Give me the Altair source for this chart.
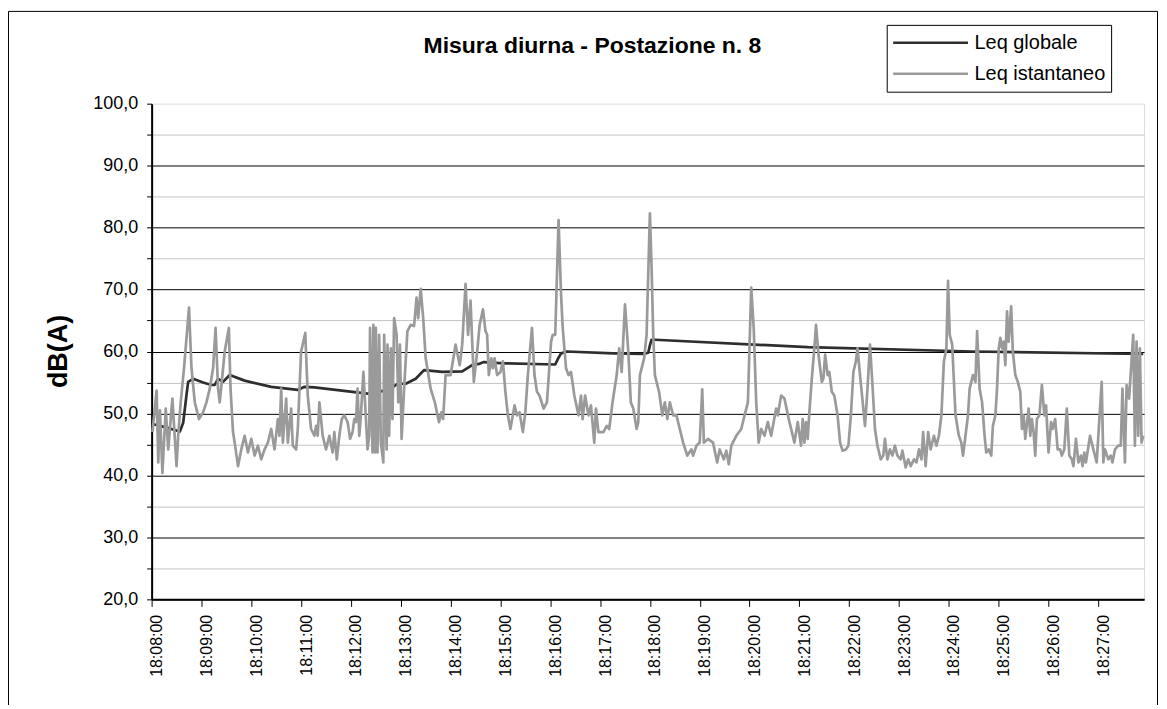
import altair as alt
import pandas as pd

# ---- data (seconds after 18:08:00, level in dB(A)) ----
inst_t = [1, 6, 8, 10, 13, 17, 20, 25, 30, 32, 35, 39, 45, 48, 52, 57, 62, 66, 70, 74, 77, 80, 82, 88, 93, 95, 98, 100,
          104, 108, 112, 116, 120, 124, 128, 132, 136, 140, 144, 148, 152, 154, 156, 158, 162, 164, 168, 170, 174, 176,
          180, 185, 188, 192, 196, 198, 200, 202, 206, 210, 214, 218, 220, 223, 226, 229, 232, 236, 239, 242, 244, 246,
          248, 250, 252, 255, 257, 260, 262, 263, 266, 267, 269, 270, 272, 274, 276, 279, 280, 283, 284, 286, 288, 290,
          292, 295, 297, 299, 301, 304, 308, 312, 316, 319, 321, 324, 327, 330, 336, 341, 346, 349, 351, 354, 360, 366,
          371, 374, 378, 381, 384, 388, 392, 395, 399, 402, 404, 406, 409, 411, 413, 416, 420, 423, 426, 429, 432, 437,
          440, 443, 447, 450, 453, 458, 461, 464, 467, 472, 476, 481, 483, 486, 490, 493, 495, 499, 502, 505, 509, 514,
          517, 519, 522, 526, 529, 533, 535, 538, 544, 548, 551, 555, 560, 563, 566, 570, 574, 577, 580, 584, 586, 588,
          591, 593, 596, 600, 602, 604, 606, 608, 611, 615, 618, 621, 624, 628, 632, 636, 640, 645, 650, 652, 656, 660,
          663, 665, 670, 676, 681, 684, 689, 692, 695, 698, 704, 710, 714, 718, 722, 725, 728, 731, 734, 738, 742, 746,
          752, 754, 758, 762, 768, 771, 774, 778, 782, 784, 786, 788, 790, 792, 795, 798, 800, 803, 805, 807, 809, 811,
          814, 816, 819, 822, 826, 829, 832, 836, 839, 842, 845, 848, 850, 853, 855, 859, 862, 865, 868, 871, 874, 878,
          881, 883, 886, 889, 892, 895, 898, 902, 904, 908, 911, 914, 918, 921, 924, 927, 929, 932, 935, 938, 942, 945,
          948, 951, 954, 957, 959, 961, 964, 968, 972, 975, 977, 980, 983, 985, 987, 989, 992, 994, 997, 1000, 1003,
          1005, 1008, 1011, 1013, 1016, 1018, 1020, 1022, 1024, 1026, 1028, 1030, 1032, 1035, 1037, 1040, 1043, 1046,
          1048, 1050, 1052, 1056, 1058, 1060, 1062, 1064, 1066, 1069, 1072, 1075, 1077, 1080, 1083, 1085, 1088, 1091,
          1094, 1096, 1099, 1102, 1105, 1108, 1110, 1113, 1116, 1119, 1121, 1123, 1125, 1130, 1134, 1138, 1144, 1146,
          1148, 1152, 1155, 1157, 1160, 1164, 1167, 1169, 1172, 1174, 1177, 1182, 1184, 1186, 1188, 1190, 1192, 1194]
inst_v = [47.0, 53.7, 42.1, 50.5, 40.4, 50.8, 44.2, 52.4, 41.5, 46.4, 51.8, 57.3, 67.1, 57.3, 51.8, 49.1, 50.2, 51.8,
          54.0, 57.3, 63.8, 54.0, 51.8, 60.0, 63.8, 54.0, 47.0, 45.3, 41.5, 44.2, 46.4, 43.7, 45.9, 43.2, 44.8, 42.6,
          44.2, 45.3, 47.5, 44.2, 49.1, 46.4, 54.0, 45.3, 52.4, 45.3, 50.8, 44.8, 44.2, 47.5, 60.0, 63.0, 52.9, 47.5,
          46.4, 48.0, 46.4, 51.8, 46.4, 44.2, 46.4, 43.7, 47.0, 42.6, 46.4, 49.1, 49.7, 48.6, 45.9, 47.0, 49.1, 48.6,
          54.0, 46.4, 49.7, 56.7, 51.8, 44.2, 46.4, 63.8, 43.7, 64.3, 43.7, 63.8, 43.7, 62.7, 45.3, 42.1, 62.7, 44.2,
          61.1, 46.4, 60.5, 49.1, 65.4, 62.7, 51.8, 61.1, 45.9, 54.0, 63.3, 64.3, 64.1, 68.7, 65.4, 70.1, 65.4, 58.9,
          54.0, 51.8, 48.6, 50.2, 49.1, 56.2, 56.2, 61.1, 57.8, 61.1, 70.9, 62.7, 68.2, 55.1, 60.0, 64.3, 66.8, 63.3,
          62.7, 56.2, 58.9, 57.3, 58.9, 56.2, 56.7, 58.4, 53.5, 49.7, 47.5, 51.3, 49.7, 50.2, 47.0, 50.2, 56.2, 63.8,
          56.2, 53.5, 52.9, 50.8, 51.8, 61.6, 62.7, 62.7, 81.2, 69.2, 63.8, 57.3, 56.2, 56.7, 52.9, 49.7, 52.9, 49.1,
          52.9, 49.7, 51.3, 45.3, 50.8, 47.0, 47.0, 48.0, 47.5, 51.8, 56.2, 60.5, 56.7, 67.6, 60.0, 51.8, 50.8, 47.5,
          48.6, 56.2, 57.8, 58.9, 62.7, 82.3, 73.6, 62.7, 56.2, 55.1, 53.5, 49.7, 51.8, 49.1, 51.8, 49.7, 49.7, 47.5,
          45.3, 43.2, 44.2, 43.2, 44.8, 45.3, 53.9, 45.3, 45.9, 45.3, 42.1, 44.2, 42.6, 44.0, 41.8, 44.8, 46.4, 47.5,
          49.7, 51.8, 70.3, 63.8, 51.8, 45.3, 47.5, 46.4, 48.6, 46.4, 50.8, 49.7, 52.9, 52.4, 48.6, 47.0, 45.3, 48.6,
          44.8, 49.1, 45.3, 48.6, 45.9, 50.2, 55.7, 60.5, 64.3, 59.5, 57.3, 55.1, 55.7, 59.5, 56.2, 56.7, 53.5, 52.9,
          49.7, 45.3, 44.0, 44.2, 44.8, 49.7, 56.7, 58.4, 60.5, 56.2, 53.5, 48.0, 54.0, 61.1, 54.6, 47.5, 44.8, 42.6,
          43.2, 45.9, 42.6, 44.2, 43.2, 44.8, 43.2, 42.6, 44.0, 41.3, 42.6, 41.5, 42.6, 42.1, 44.2, 42.6, 47.0, 41.5,
          47.0, 44.2, 46.4, 44.8, 46.4, 49.7, 58.4, 60.5, 71.4, 62.7, 61.1, 49.7, 46.4, 45.3, 43.2, 46.4, 49.7, 54.0,
          55.1, 56.2, 55.1, 63.3, 54.0, 51.8, 46.4, 43.7, 44.2, 43.2, 48.0, 49.7, 54.0, 60.5, 62.2, 60.5, 61.6, 57.8,
          66.5, 61.6, 67.3, 60.0, 56.2, 55.1, 53.5, 47.5, 49.7, 45.9, 50.8, 46.4, 49.1, 47.0, 43.2, 49.1, 49.7, 54.6,
          49.7, 51.3, 43.7, 48.6, 47.5, 49.1, 44.2, 44.2, 43.2, 44.2, 50.8, 43.2, 42.6, 41.5, 45.9, 42.1, 43.2, 41.5,
          43.7, 42.1, 46.4, 44.2, 42.1, 55.1, 42.1, 44.2, 42.6, 43.2, 42.1, 44.2, 44.8, 44.8, 54.0, 42.1, 54.6, 52.4,
          62.7, 44.8, 61.6, 46.4, 60.5, 45.3, 46.4]

glob_t = [1, 16, 34, 38, 42, 44, 50, 62, 72, 76, 80, 86, 94, 112, 144, 176, 184, 196, 242, 260, 286, 296, 306, 318,
          328, 350, 374, 386, 394, 400, 424, 486, 490, 493, 500, 556, 592, 598, 600, 602, 606, 790, 988, 1194]
glob_v = [48.3, 47.8, 47.1, 48.5, 53.0, 55.1, 55.6, 55.0, 54.6, 54.6, 55.6, 55.1, 56.2, 55.3, 54.3, 53.8, 54.3, 54.2,
          53.5, 53.2, 53.8, 54.8, 54.8, 55.6, 57.0, 56.7, 56.8, 57.8, 58.0, 58.3, 58.1, 57.9, 59.0, 59.7, 60.0, 59.7,
          59.6, 59.8, 61.0, 61.9, 61.9, 60.7, 60.0, 59.6]

series_names = ["Leq globale", "Leq istantaneo"]
series_colors = ["#2e2e2e", "#9a9a9a"]
x_tick_labels = ["18:08:00", "18:09:00", "18:10:00", "18:11:00", "18:12:00", "18:13:00", "18:14:00",
                 "18:15:00", "18:16:00", "18:17:00", "18:18:00", "18:19:00", "18:20:00", "18:21:00",
                 "18:22:00", "18:23:00", "18:24:00", "18:25:00", "18:26:00", "18:27:00"]
y_tick_labels = ["20,0", "30,0", "40,0", "50,0", "60,0", "70,0", "80,0", "90,0", "100,0"]
title_text = "Misura diurna - Postazione n. 8"
y_title = "dB(A)"

df = pd.concat([
    pd.DataFrame({"t": glob_t, "v": glob_v, "serie": series_names[0]}),
    pd.DataFrame({"t": inst_t, "v": inst_v, "serie": series_names[1]}),
], ignore_index=True)

FONT = "Liberation Sans"

x_label_expr = "[" + ",".join("'%s'" % s for s in x_tick_labels) + "][round(datum.value / 60)]"
y_label_expr = ("datum.value % 10 == 0 ? [" + ",".join("'%s'" % s for s in y_tick_labels)
                + "][round((datum.value - 20) / 10)] : ''")

lines = alt.Chart(df).mark_line(strokeWidth=2.7, strokeJoin="round").encode(
    x=alt.X("t:Q",
            scale=alt.Scale(domain=[0, 1195], nice=False, zero=False),
            axis=alt.Axis(values=list(range(0, 1141, 60)), labelExpr=x_label_expr,
                          labelAngle=270, labelFont=FONT, labelFontSize=16, labelColor="black",
                          labelPadding=8, labelOffset=5, labelOverlap=False, labelFlush=False,
                          tickSize=7, tickColor="black", tickWidth=1,
                          domainColor="black", domainWidth=2, grid=False, title=None)),
    y=alt.Y("v:Q",
            scale=alt.Scale(domain=[20, 100], nice=False, zero=False),
            axis=alt.Axis(values=list(range(20, 101, 5)), labelExpr=y_label_expr,
                          labelFont=FONT, labelFontSize=18, labelColor="black", labelPadding=9,
                          tickSize=5, tickColor="black", tickWidth=1,
                          domainColor="black", domainWidth=2,
                          grid=True, gridWidth=1,
                          gridColor={"condition": {"test": "datum.value % 10 == 0", "value": "#000000"},
                                     "value": "#c4c4c4"},
                          gridOpacity={"condition": {"test": "datum.value >= 100", "value": 0}, "value": 1},
                          title=y_title, titleFont=FONT, titleFontSize=27, titleFontWeight="bold",
                          titleColor="black", titleAngle=270, titleX=-93, titleY=248,
                          titleAlign="center", titleBaseline="middle")),
    color=alt.Color("serie:N",
                    scale=alt.Scale(domain=series_names, range=series_colors),
                    legend=alt.Legend(title=None, orient="none", legendX=737, legendY=-79,
                                      direction="vertical", labelFont=FONT, labelFontSize=20,
                                      labelColor="black", labelOffset=5, labelLimit=0,
                                      symbolType="stroke", symbolSize=5625, symbolStrokeWidth=2.5,
                                      clipHeight=26,
                                      strokeColor="black", fillColor="white", padding=5,
                                      rowPadding=5)),
)

frame = alt.Chart(pd.DataFrame({"k": [0]})).mark_rect(
    fillOpacity=0, stroke="black", strokeWidth=1
).encode(x=alt.value(-143.5), x2=alt.value(1008.5), y=alt.value(-92.5), y2=alt.value(720))

title = alt.Chart(pd.DataFrame({"label": [title_text]})).mark_text(
    font=FONT, fontSize=23, fontWeight="bold", color="black", align="center", baseline="alphabetic"
).encode(text="label:N", x=alt.value(442), y=alt.value(-51))

chart = alt.layer(frame, lines, title).properties(
    width=995, height=497,
    autosize=alt.AutoSizeParams(type="none"),
    padding={"left": 144, "top": 95, "right": 15, "bottom": 105},
).configure_view(stroke="#808080", strokeWidth=1).configure(background="white")

chart.save("out.html", embed_options={"renderer": "svg", "actions": False})
